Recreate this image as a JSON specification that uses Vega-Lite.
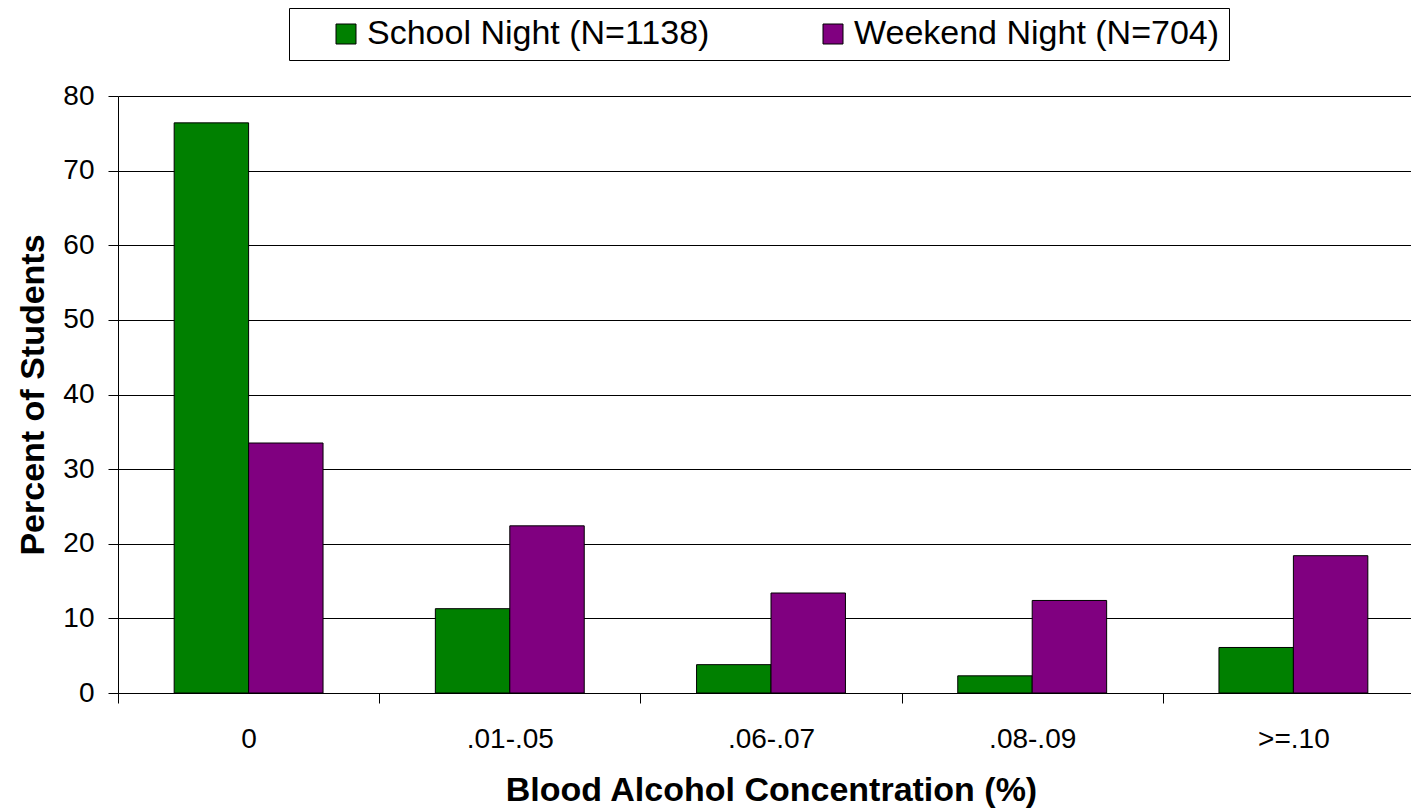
{
  "$schema": "https://vega.github.io/schema/vega-lite/v6.json",
  "width": 1306,
  "height": 597,
  "autosize": {"type": "none"},
  "padding": {"left": 118, "top": 96, "right": 0, "bottom": 116},
  "background": "white",
  "config": {
    "font": "Liberation Sans",
    "view": {"stroke": null}
  },
  "data": {
    "values": [
      {"bac": "0", "night": "School Night (N=1138)", "pct": 76.4},
      {"bac": "0", "night": "Weekend Night (N=704)", "pct": 33.5},
      {"bac": ".01-.05", "night": "School Night (N=1138)", "pct": 11.3},
      {"bac": ".01-.05", "night": "Weekend Night (N=704)", "pct": 22.4},
      {"bac": ".06-.07", "night": "School Night (N=1138)", "pct": 3.8},
      {"bac": ".06-.07", "night": "Weekend Night (N=704)", "pct": 13.4},
      {"bac": ".08-.09", "night": "School Night (N=1138)", "pct": 2.3},
      {"bac": ".08-.09", "night": "Weekend Night (N=704)", "pct": 12.4},
      {"bac": ">=.10", "night": "School Night (N=1138)", "pct": 6.1},
      {"bac": ">=.10", "night": "Weekend Night (N=704)", "pct": 18.4}
    ]
  },
  "mark": {"type": "bar", "stroke": "#000000", "strokeWidth": 1},
  "encoding": {
    "x": {
      "field": "bac",
      "type": "nominal",
      "sort": null,
      "scale": {"paddingInner": 0.43, "paddingOuter": 0.215},
      "axis": {
        "title": "Blood Alcohol Concentration (%)",
        "titleFontSize": 34,
        "titleFontWeight": "bold",
        "titleColor": "#000000",
        "titlePadding": 20,
        "labelAngle": 0,
        "labelFontSize": 28,
        "labelColor": "#000000",
        "labelPadding": 22,
        "tickSize": 10,
        "tickColor": "#000000",
        "tickOffset": -130.6,
        "labelOffset": 130.6,
        "domainColor": "#000000",
        "grid": false
      }
    },
    "xOffset": {"field": "night", "type": "nominal", "sort": null},
    "y": {
      "field": "pct",
      "type": "quantitative",
      "scale": {"domain": [0, 80], "nice": false},
      "axis": {
        "title": "Percent of Students",
        "titleFontSize": 34,
        "titleFontWeight": "bold",
        "titleColor": "#000000",
        "titlePadding": 12,
        "values": [0, 10, 20, 30, 40, 50, 60, 70, 80],
        "labelFontSize": 28,
        "labelColor": "#000000",
        "labelPadding": 14,
        "tickSize": 10,
        "tickColor": "#000000",
        "domainColor": "#000000",
        "grid": true,
        "gridColor": "#000000",
        "gridOpacity": 1,
        "gridWidth": 1
      }
    },
    "color": {
      "field": "night",
      "type": "nominal",
      "sort": null,
      "scale": {"range": ["#008000", "#800080"]},
      "legend": {
        "title": " ",
        "titleOrient": "left",
        "titleFontSize": 1,
        "titlePadding": 31,
        "orient": "none",
        "direction": "horizontal",
        "legendX": 171,
        "legendY": -88,
        "padding": 9,
        "strokeColor": "#000000",
        "fillColor": "#ffffff",
        "symbolType": "square",
        "symbolSize": 400,
        "symbolStrokeColor": "#000000",
        "symbolStrokeWidth": 1,
        "symbolOpacity": 1,
        "labelFontSize": 34,
        "labelColor": "#000000",
        "labelOffset": 4,
        "labelLimit": 600,
        "columnPadding": 106
      }
    }
  }
}
